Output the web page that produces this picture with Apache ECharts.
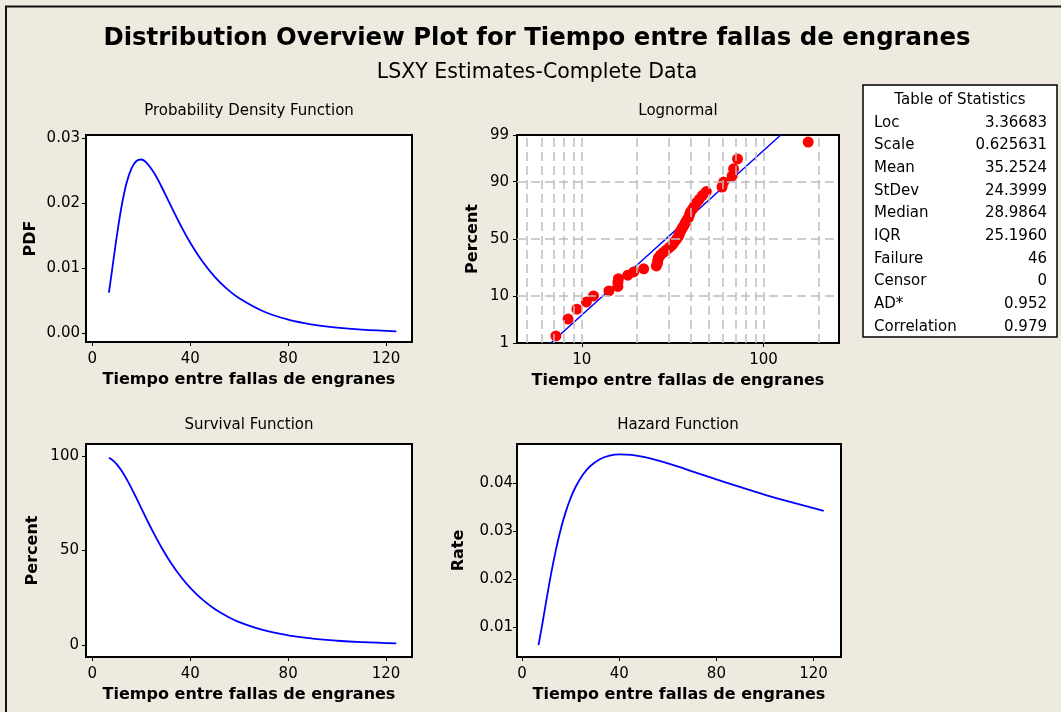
<!DOCTYPE html>
<html>
<head>
<meta charset="utf-8">
<title>Distribution Overview Plot</title>
<script src="https://cdn.jsdelivr.net/npm/echarts@6/dist/echarts.min.js"></script>
<style>
  html, body { margin: 0; padding: 0; background: #eeeae0; }
  #chart { width: 1061px; height: 712px; }
</style>
</head>
<body>
<div id="chart"></div>
<script>
// fitted lognormal curves
const timeGrid = [6.76, 8, 9, 10, 12, 14, 16, 18, 20, 22, 25, 28, 32, 36, 40, 45, 50, 55, 60, 70, 80, 90, 100, 110, 124.2];
const pdfValues = [0.0063, 0.0096, 0.01234, 0.01501, 0.01967, 0.02315, 0.02539, 0.02651, 0.02674, 0.0263, 0.0248, 0.02274, 0.01968, 0.01668, 0.01396, 0.01107, 0.00872, 0.00687, 0.00541, 0.00338, 0.00214, 0.00138, 0.0009, 0.0006, 0.00034];
const survivalValues = [99.0, 98.02, 96.92, 95.55, 92.07, 87.76, 82.89, 77.68, 72.35, 67.03, 59.35, 52.21, 43.72, 36.45, 30.34, 24.1, 19.18, 15.3, 12.24, 7.94, 5.23, 3.51, 2.39, 1.65, 1.0];
const hazardValues = [0.00636, 0.00979, 0.01274, 0.0157, 0.02137, 0.02638, 0.03063, 0.03412, 0.03696, 0.03924, 0.04179, 0.04356, 0.04502, 0.04576, 0.04603, 0.04592, 0.04549, 0.04488, 0.04414, 0.04251, 0.04084, 0.0392, 0.03763, 0.0362, 0.0343];

// lognormal probability plot
const failureTimes = [7.2, 8.4, 9.4, 10.6, 11.6, 14.1, 15.8, 15.8, 15.9, 17.9, 19.3, 21.9, 25.7, 26.1, 26.2, 26.4, 27.1, 28.1, 29.2, 30.3,
  31.4, 32.1, 32.9, 33.6, 34.2, 34.6, 35.1, 35.7, 36.4, 37.1, 37.8, 38.6, 39.1, 39.6, 40.6, 41.6, 42.7, 44.3, 46.0, 48.4,
  59.1, 60.3, 67.1, 68.4, 71.9, 176.0];
const plotPercents = [1.51, 3.66, 5.82, 7.97, 10.13, 12.28, 14.44, 16.59, 18.75, 20.91, 23.06, 25.22, 27.37, 29.53, 31.68, 33.84, 35.99, 38.15, 40.30, 42.46,
  44.61, 46.77, 48.92, 51.08, 53.23, 55.39, 57.54, 59.70, 61.85, 64.01, 66.16, 68.32, 70.47, 72.63, 74.78, 76.94, 79.09, 81.25, 83.41, 85.56,
  87.72, 89.87, 92.03, 94.18, 96.34, 98.49];
const fitLineTimes = [6.76, 28.99, 124.2];
const fitLinePercents = [1, 50, 99];

// ticks
const timeTicks = [0, 40, 80, 120];
const pdfTicks = [0, 0.01, 0.02, 0.03];
const survivalTicks = [0, 50, 100];
const hazardTicks = [0.01, 0.02, 0.03, 0.04];
const percentTicks = [1, 10, 50, 90, 99];
const percentGrid = [10, 50, 90];
const logTicks = [10, 100];
const logGrid = [5, 6, 7, 8, 9, 10, 20, 30, 40, 50, 60, 70, 80, 90, 100, 200];

const statNames = ['Loc', 'Scale', 'Mean', 'StDev', 'Median', 'IQR', 'Failure', 'Censor', 'AD*', 'Correlation'];
const statValues = ['3.36683', '0.625631', '35.2524', '24.3999', '28.9864', '25.1960', '46', '0', '0.952', '0.979'];

// normal quantile, for the probability (percent) scale
function normInv(p) {
  const a = [-3.969683028665376e+01, 2.209460984245205e+02, -2.759285104469687e+02, 1.383577518672690e+02, -3.066479806614716e+01, 2.506628277459239e+00];
  const b = [-5.447609879822406e+01, 1.615858368580409e+02, -1.556989798598866e+02, 6.680131188771972e+01, -1.328068155288572e+01];
  const c = [-7.784894002430293e-03, -3.223964580411365e-01, -2.400758277161838e+00, -2.549732539343734e+00, 4.374664141464968e+00, 2.938163982698783e+00];
  const d = [7.784695709041462e-03, 3.224671290700398e-01, 2.445134137142996e+00, 3.754408661907416e+00];
  let q, r;
  if (p < 0.02425) {
    q = Math.sqrt(-2 * Math.log(p));
    return (((((c[0] * q + c[1]) * q + c[2]) * q + c[3]) * q + c[4]) * q + c[5]) / ((((d[0] * q + d[1]) * q + d[2]) * q + d[3]) * q + 1);
  }
  if (p > 1 - 0.02425) {
    q = Math.sqrt(-2 * Math.log(1 - p));
    return -(((((c[0] * q + c[1]) * q + c[2]) * q + c[3]) * q + c[4]) * q + c[5]) / ((((d[0] * q + d[1]) * q + d[2]) * q + d[3]) * q + 1);
  }
  q = p - 0.5; r = q * q;
  return (((((a[0] * r + a[1]) * r + a[2]) * r + a[3]) * r + a[4]) * r + a[5]) * q / (((((b[0] * r + b[1]) * r + b[2]) * r + b[3]) * r + b[4]) * r + 1);
}
const pz = p => normInv(p / 100);
const percentTickZ = percentTicks.map(pz);

const FONT = 'DejaVu Sans';
const BLUE = '#0000ff';

function gridBox(left, top, width, height) {
  return { left, top, width, height, show: true, backgroundColor: '#fff', borderColor: '#000', borderWidth: 2, containLabel: false };
}

function valueAxis(gridIndex, min, max, ticks, opts) {
  opts = opts || {};
  return {
    type: 'value', gridIndex, min, max,
    axisLine: { show: false, onZero: false },
    splitLine: { show: false },
    axisTick: { show: true, length: 4, customValues: ticks, lineStyle: { color: '#000', width: 1 } },
    axisLabel: { customValues: ticks, color: '#000', fontFamily: FONT, fontSize: 15, margin: opts.margin || 7, formatter: opts.formatter },
    name: opts.name, nameLocation: 'middle', nameGap: opts.nameGap,
    nameTextStyle: { fontFamily: FONT, fontWeight: 'bold', fontSize: 16, color: '#000' }
  };
}

const xName = 'Tiempo entre fallas de engranes';
const fix2 = v => v.toFixed(2);

const chart = echarts.init(document.getElementById('chart'));

const tableRows = [];
statNames.forEach((n, i) => {
  const y = 122.7 + i * 22.7;
  tableRows.push({ type: 'text', x: 874, y, style: { text: n, fontFamily: FONT, fontSize: 15, fill: '#000', align: 'left', verticalAlign: 'middle' } });
  tableRows.push({ type: 'text', x: 1047, y, style: { text: statValues[i], fontFamily: FONT, fontSize: 15, fill: '#000', align: 'right', verticalAlign: 'middle' } });
});

const option = {
  backgroundColor: '#eeeae0',
  animation: false,
  title: [
    { text: 'Distribution Overview Plot for Tiempo entre fallas de engranes', left: 537, top: 27, textAlign: 'center', padding: 0,
      textStyle: { fontFamily: FONT, fontWeight: 'bold', fontSize: 24.4, color: '#000' } },
    { text: 'LSXY Estimates-Complete Data', left: 537, top: 62, textAlign: 'center', padding: 0,
      textStyle: { fontFamily: FONT, fontWeight: 'normal', fontSize: 20.5, color: '#000' } },
    { text: 'Probability Density Function', left: 249, top: 104, textAlign: 'center', padding: 0,
      textStyle: { fontFamily: FONT, fontWeight: 'normal', fontSize: 15, color: '#000' } },
    { text: 'Lognormal', left: 678, top: 104, textAlign: 'center', padding: 0,
      textStyle: { fontFamily: FONT, fontWeight: 'normal', fontSize: 15, color: '#000' } },
    { text: 'Survival Function', left: 249, top: 418, textAlign: 'center', padding: 0,
      textStyle: { fontFamily: FONT, fontWeight: 'normal', fontSize: 15, color: '#000' } },
    { text: 'Hazard Function', left: 678, top: 418, textAlign: 'center', padding: 0,
      textStyle: { fontFamily: FONT, fontWeight: 'normal', fontSize: 15, color: '#000' } }
  ],
  grid: [
    gridBox(86, 135, 326, 207),
    gridBox(517, 135, 322, 208),
    gridBox(86, 444, 326, 213),
    gridBox(517, 444, 324, 213)
  ],
  xAxis: [
    valueAxis(0, -2.6, 130.6, timeTicks, { name: xName, nameGap: 30, margin: 10 }),
    {
      type: 'log', logBase: 10, gridIndex: 1, min: 4.4, max: 260,
      axisLine: { show: false, onZero: false },
      splitLine: { show: false },
      axisTick: { show: true, length: 4, lineStyle: { color: '#000', width: 1 } },
      axisLabel: { color: '#000', fontFamily: FONT, fontSize: 15, margin: 10, showMinLabel: false, showMaxLabel: false,
        formatter: v => logTicks.some(t => Math.abs(t - v) < 1e-6) ? String(Math.round(v)) : '' },
      name: xName, nameLocation: 'middle', nameGap: 30,
      nameTextStyle: { fontFamily: FONT, fontWeight: 'bold', fontSize: 16, color: '#000' }
    },
    valueAxis(2, -2.6, 130.6, timeTicks, { name: xName, nameGap: 30, margin: 10 }),
    valueAxis(3, -2.1, 131.3, timeTicks, { name: xName, nameGap: 30, margin: 10 })
  ],
  yAxis: [
    valueAxis(0, -0.0013, 0.0305, pdfTicks, { name: 'PDF', nameGap: 47, margin: 6, formatter: fix2 }),
    valueAxis(1, percentTickZ[0], percentTickZ[percentTickZ.length - 1], percentTickZ, {
      name: 'Percent', nameGap: 36, margin: 8,
      formatter: v => {
        const i = percentTickZ.findIndex(z => Math.abs(z - v) < 1e-6);
        return i >= 0 ? String(percentTicks[i]) : '';
      }
    }),
    valueAxis(2, -6.2, 106.3, survivalTicks, { name: 'Percent', nameGap: 45, margin: 7 }),
    valueAxis(3, 0.00388, 0.04819, hazardTicks, { name: 'Rate', nameGap: 50, margin: 4, formatter: fix2 })
  ],
  series: [
    { type: 'line', xAxisIndex: 0, yAxisIndex: 0, smooth: 0.4, showSymbol: false, silent: true,
      lineStyle: { color: BLUE, width: 1.8 }, data: timeGrid.map((t, i) => [t, pdfValues[i]]) },
    // dashed reference grid of the probability plot
    { type: 'line', xAxisIndex: 1, yAxisIndex: 1, data: [], z: 1, silent: true,
      markLine: {
        silent: true, symbol: ['none', 'none'], label: { show: false }, animation: false,
        lineStyle: { color: '#bdbdbd', type: [9, 5], width: 1.5 },
        data: logGrid.map(v => ({ xAxis: v })).concat(percentGrid.map(p => ({ yAxis: pz(p) })))
      } },
    { type: 'line', xAxisIndex: 1, yAxisIndex: 1, showSymbol: false, silent: true, z: 3,
      lineStyle: { color: BLUE, width: 1.5 }, data: fitLineTimes.map((t, i) => [t, pz(fitLinePercents[i])]) },
    { type: 'scatter', xAxisIndex: 1, yAxisIndex: 1, symbolSize: 11, silent: true, z: 4,
      itemStyle: { color: '#ff0000', opacity: 1 }, data: failureTimes.map((t, i) => [t, pz(plotPercents[i])]) },
    { type: 'line', xAxisIndex: 2, yAxisIndex: 2, smooth: 0.4, showSymbol: false, silent: true,
      lineStyle: { color: BLUE, width: 1.8 }, data: timeGrid.map((t, i) => [t, survivalValues[i]]) },
    { type: 'line', xAxisIndex: 3, yAxisIndex: 3, smooth: 0.4, showSymbol: false, silent: true,
      lineStyle: { color: BLUE, width: 1.8 }, data: timeGrid.map((t, i) => [t, hazardValues[i]]) }
  ],
  graphic: [
    { type: 'rect', shape: { x: 6, y: 6.5, width: 1100, height: 800 }, style: { fill: 'none', stroke: '#111', lineWidth: 2 }, silent: true },
    { type: 'rect', shape: { x: 863, y: 85, width: 194, height: 252 }, style: { fill: '#fff', stroke: '#000', lineWidth: 1.5 }, silent: true },
    { type: 'text', x: 960, y: 100, style: { text: 'Table of Statistics', fontFamily: FONT, fontSize: 15, fill: '#000', align: 'center', verticalAlign: 'middle' } }
  ].concat(tableRows)
};

chart.setOption(option);
</script>
</body>
</html>
